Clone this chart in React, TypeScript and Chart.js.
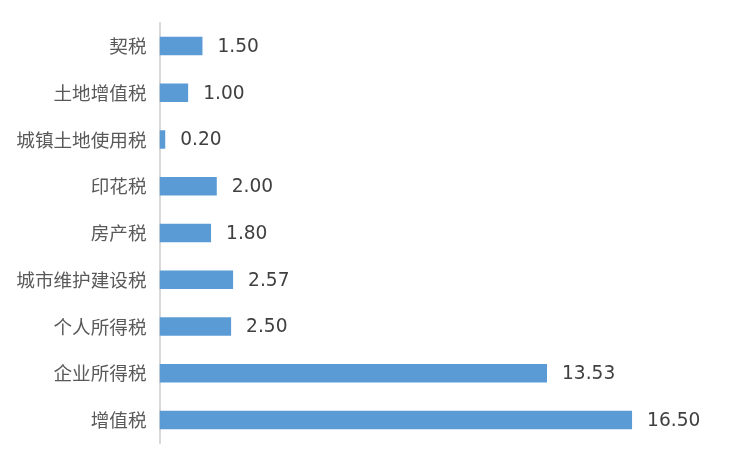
import React, { useEffect, useRef } from "react";
import { Chart, registerables } from "chart.js";

Chart.register(...registerables);

const categories = ["契税", "土地增值税", "城镇土地使用税", "印花税", "房产税", "城市维护建设税", "个人所得税", "企业所得税", "增值税"];
const values = [1.5, 1.0, 0.2, 2.0, 1.8, 2.57, 2.5, 13.53, 16.5];

const labelPlugin = {
  id: "barLabels",
  afterDatasetsDraw(chart: any) {
    const ctx = chart.ctx;
    const meta = chart.getDatasetMeta(0);
    ctx.save();
    ctx.font = '18.6px "DejaVu Sans"';
    ctx.fillStyle = "#404040";
    ctx.textAlign = "left";
    ctx.textBaseline = "middle";
    meta.data.forEach((el: any, i: number) => {
      ctx.fillText(values[i].toFixed(2), el.x + 15, el.y + 1);
    });
    ctx.restore();
  },
};

export default function App() {
  const ref = useRef<HTMLCanvasElement>(null);
  useEffect(() => {
    const chart = new Chart(ref.current!, {
      type: "bar",
      data: {
        labels: categories,
        datasets: [
          {
            data: values,
            backgroundColor: "#5b9bd5",
            borderWidth: 0,
            categoryPercentage: 0.4,
            barPercentage: 1,
          },
        ],
      },
      options: {
        indexAxis: "y",
        animation: false,
        responsive: false,
        layout: { padding: { top: 14.6, bottom: 16.6, right: 15.7, left: 0 } },
        plugins: { legend: { display: false }, tooltip: { enabled: false } },
        scales: {
          x: { display: false, min: 0, max: 20 },
          y: {
            grid: { display: false, drawTicks: false },
            border: { display: true, color: "#d9d9d9", width: 2 },
            ticks: {
              color: "#595959",
              padding: 13,
              font: { family: '"Noto Sans CJK SC"', size: 18.6 },
            },
            afterFit(scale: any) {
              scale.width = 151.5;
              scale.paddingTop = 0;
              scale.paddingBottom = 0;
            },
          },
        },
      },
      plugins: [labelPlugin],
    });
    return () => chart.destroy();
  }, []);
  return <canvas ref={ref} width={740} height={452} />;
}
